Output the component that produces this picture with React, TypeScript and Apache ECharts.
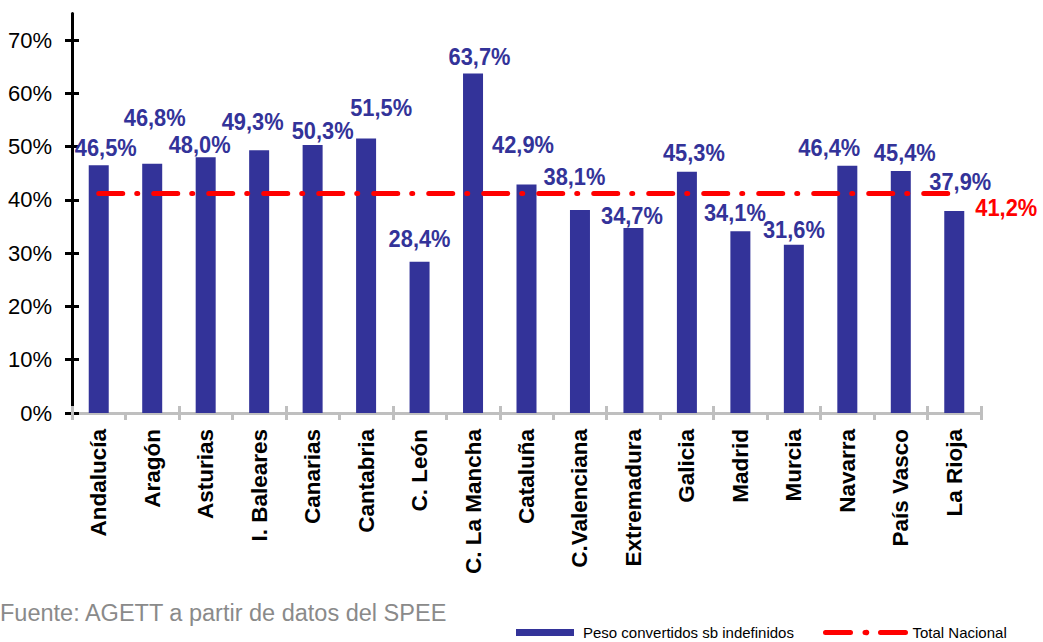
import React, { useEffect, useRef } from 'react';
import * as echarts from 'echarts';

const categories = [
  'Andalucía', 'Aragón', 'Asturias', 'I. Baleares', 'Canarias', 'Cantabria', 'C. León',
  'C. La Mancha', 'Cataluña', 'C.Valenciana', 'Extremadura', 'Galicia', 'Madrid', 'Murcia',
  'Navarra', 'País Vasco', 'La Rioja',
];
const peso = [46.5, 46.8, 48.0, 49.3, 50.3, 51.5, 28.4, 63.7, 42.9, 38.1, 34.7, 45.3, 34.1, 31.6, 46.4, 45.4, 37.9];
const totalNacional = [41.2, 41.2, 41.2, 41.2, 41.2, 41.2, 41.2, 41.2, 41.2, 41.2, 41.2, 41.2, 41.2, 41.2, 41.2, 41.2, 41.2];
const yTicks = [0, 10, 20, 30, 40, 50, 60, 70];
const seriesNames = ['Peso convertidos sb indefinidos', 'Total Nacional'];
const sourceText = 'Fuente: AGETT a partir de datos del SPEE';

// label placement (pixel offsets from the data point), style only
const barLabelOffsets = [
  [7, -17], [2.5, -45], [-6, -12], [-6.5, -28], [10, -14], [15, -30], [0, -22], [6.5, -16],
  [-3.5, -39], [-5.5, -33], [-1.5, -12], [7, -18], [-5.5, -18], [0, -14.5], [-18, -17.5], [4, -18], [6, -29],
];
const lineLabelOffset = [52, 15];

const FONT = '"Liberation Sans", Arial, sans-serif';
const BLUE = '#333399';
const RED = '#FF0000';

const fmt = (v: number) => v.toFixed(1).replace('.', ',') + '%';

function labelRenderer(offsets: (i: number) => number[], color: string) {
  return (params: any, api: any) => {
    const idx = api.value(0);
    const val = api.value(1);
    const pt = api.coord([idx, val]);
    const off = offsets(params.dataIndex);
    return {
      type: 'text',
      x: pt[0] + off[0],
      y: pt[1] + off[1],
      scaleX: 0.95,
      silent: true,
      style: {
        text: fmt(val),
        fill: color,
        fontSize: 23,
        fontWeight: 'bold',
        fontFamily: FONT,
        align: 'center',
        verticalAlign: 'middle',
      },
    };
  };
}

export default function App() {
  const ref = useRef<HTMLDivElement>(null);
  useEffect(() => {
    if (!ref.current) return;
    const chart = echarts.init(ref.current, undefined, { renderer: 'svg' });
    const tickStyle = (color: string) => ({ color, width: 3 });
    const last = totalNacional.length - 1;
    chart.setOption({
      animation: false,
      backgroundColor: '#FFFFFF',
      textStyle: { fontFamily: FONT },
      grid: {
        left: 72, right: 62, top: 13.4, bottom: 229,
        containLabel: false, outerBoundsMode: 'none',
      },
      legend: [
        {
          data: [seriesNames[0]], left: 516, top: 625, padding: 0,
          itemWidth: 58, itemHeight: 7, icon: 'rect', selectedMode: false,
          textStyle: { fontSize: 15, color: '#000', fontFamily: FONT, padding: [0, 0, 0, 4] },
        },
        {
          data: [seriesNames[1]], left: 823, top: 625, padding: 0,
          itemWidth: 82, itemHeight: 7, selectedMode: false,
          lineStyle: { color: RED, width: 5, type: [25, 14.5, 1, 14.5], cap: 'round' },
          textStyle: { fontSize: 15, color: '#000', fontFamily: FONT },
        },
      ],
      xAxis: [
        {
          type: 'category', data: categories, position: 'bottom', boundaryGap: true,
          axisLine: { show: true, lineStyle: { color: '#BFBFBF', width: 3 } },
          axisTick: { show: true, length: 7, lineStyle: tickStyle('#BFBFBF') },
          axisLabel: {
            rotate: 90, margin: 16, interval: 0, fontSize: 22.5, fontWeight: 'bold',
            color: '#000', fontFamily: FONT,
          },
          splitLine: { show: false },
        },
        {
          type: 'category', data: categories, position: 'bottom', boundaryGap: true,
          axisLine: { show: false },
          axisTick: { show: true, inside: true, length: 7, lineStyle: tickStyle('#BFBFBF') },
          axisLabel: { show: false },
          splitLine: { show: false },
        },
      ],
      yAxis: [
        {
          type: 'value', min: 0, max: 75, position: 'left',
          axisLine: { show: true, lineStyle: { color: '#000', width: 3 } },
          axisTick: { show: true, length: 7, lineStyle: tickStyle('#000'), customValues: yTicks },
          axisLabel: {
            customValues: yTicks, formatter: (v: number) => v + '%', fontSize: 22,
            color: '#000', margin: 20, fontFamily: FONT,
          },
          splitLine: { show: false },
        },
        {
          type: 'value', min: 0, max: 75, position: 'left',
          axisLine: { show: false },
          axisTick: { show: true, inside: true, length: 7, lineStyle: tickStyle('#000'), customValues: yTicks },
          axisLabel: { show: false, customValues: yTicks },
          splitLine: { show: false },
        },
      ],
      graphic: [
        {
          type: 'text', x: 0, y: 612.5, silent: true,
          style: {
            text: sourceText, fill: '#8A8A8A', fontSize: 23.5, fontFamily: FONT,
            align: 'left', verticalAlign: 'middle',
          },
        },
      ],
      series: [
        {
          type: 'bar', name: seriesNames[0], data: peso, barWidth: 20,
          xAxisIndex: 0, yAxisIndex: 0,
          itemStyle: { color: BLUE },
          z: 2,
        },
        {
          type: 'line', name: seriesNames[1], data: totalNacional,
          xAxisIndex: 0, yAxisIndex: 0,
          symbol: 'none', showSymbol: false,
          itemStyle: { color: RED },
          lineStyle: { color: RED, width: 5, type: [24, 14, 1, 16], cap: 'round' },
          z: 3,
        },
        {
          type: 'custom', name: 'barLabels', xAxisIndex: 0, yAxisIndex: 0,
          data: peso.map((v, i) => [i, v]),
          renderItem: labelRenderer((i) => barLabelOffsets[i], BLUE),
          silent: true, z: 5,
        },
        {
          type: 'custom', name: 'lineLabel', xAxisIndex: 0, yAxisIndex: 0,
          data: [[last, totalNacional[last]]],
          renderItem: labelRenderer(() => lineLabelOffset, RED),
          silent: true, z: 5,
        },
      ],
    });
    return () => chart.dispose();
  }, []);
  return (
    <div
      ref={ref}
      style={{ position: 'fixed', left: 0, top: 0, width: 1043, height: 642, background: '#fff' }}
    />
  );
}
